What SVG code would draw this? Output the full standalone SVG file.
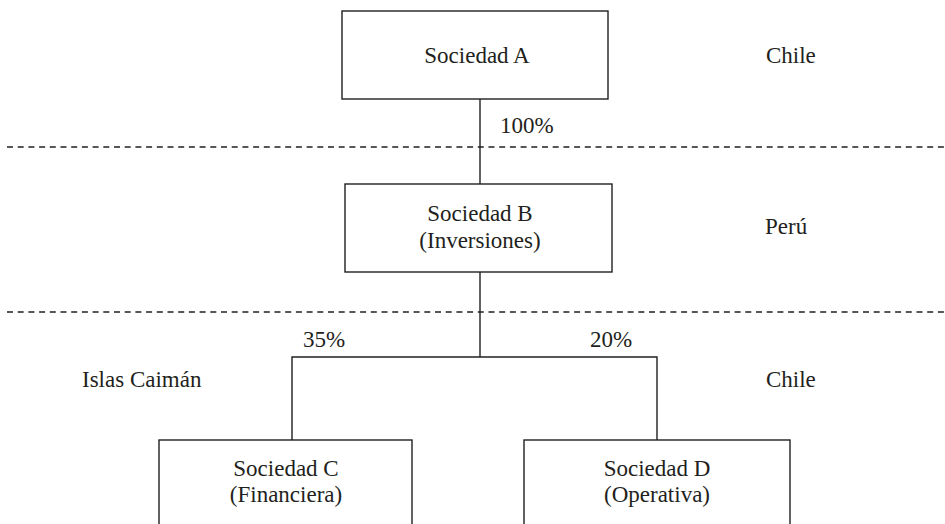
<svg xmlns="http://www.w3.org/2000/svg" width="945" height="524" viewBox="0 0 945 524">
<style>
.box{fill:#fff;stroke:#231f20;stroke-width:1.4}
.ln{fill:none;stroke:#231f20;stroke-width:1.4}
.dash{fill:none;stroke:#231f20;stroke-width:1.3;stroke-dasharray:6 4.7}
text{font-family:"Liberation Serif","DejaVu Serif",serif;font-size:23px;fill:#231f20}
.c{text-anchor:middle}
</style>
<rect width="945" height="524" fill="#fff"/>
<g id="regions">
<line class="dash" x1="7" y1="147" x2="945" y2="147"/>
<line class="dash" x1="7" y1="312" x2="945" y2="312"/>
<text x="766" y="63">Chile</text>
<text x="765" y="234">Perú</text>
<text x="82" y="387">Islas Caimán</text>
<text x="766" y="387">Chile</text>
</g>
<g id="connectors">
<line class="ln" x1="480" y1="99" x2="480" y2="184"/>
<line class="ln" x1="480" y1="272" x2="480" y2="357"/>
<polyline class="ln" points="292,440 292,357 657,357 657,440"/>
<text x="500" y="133">100%</text>
<text x="303" y="347">35%</text>
<text x="590" y="347">20%</text>
</g>
<g id="sociedadA">
<rect class="box" x="342" y="11" width="266" height="88"/>
<text class="c" x="477" y="63">Sociedad A</text>
</g>
<g id="sociedadB">
<rect class="box" x="345" y="184" width="267" height="88"/>
<text class="c" x="480" y="221">Sociedad B</text>
<text class="c" x="480" y="248">(Inversiones)</text>
</g>
<g id="sociedadC">
<rect class="box" x="159" y="440" width="253" height="100"/>
<text class="c" x="286" y="476">Sociedad C</text>
<text class="c" x="286" y="502">(Financiera)</text>
</g>
<g id="sociedadD">
<rect class="box" x="524" y="440" width="266" height="100"/>
<text class="c" x="657" y="476">Sociedad D</text>
<text class="c" x="657" y="502">(Operativa)</text>
</g>
</svg>
